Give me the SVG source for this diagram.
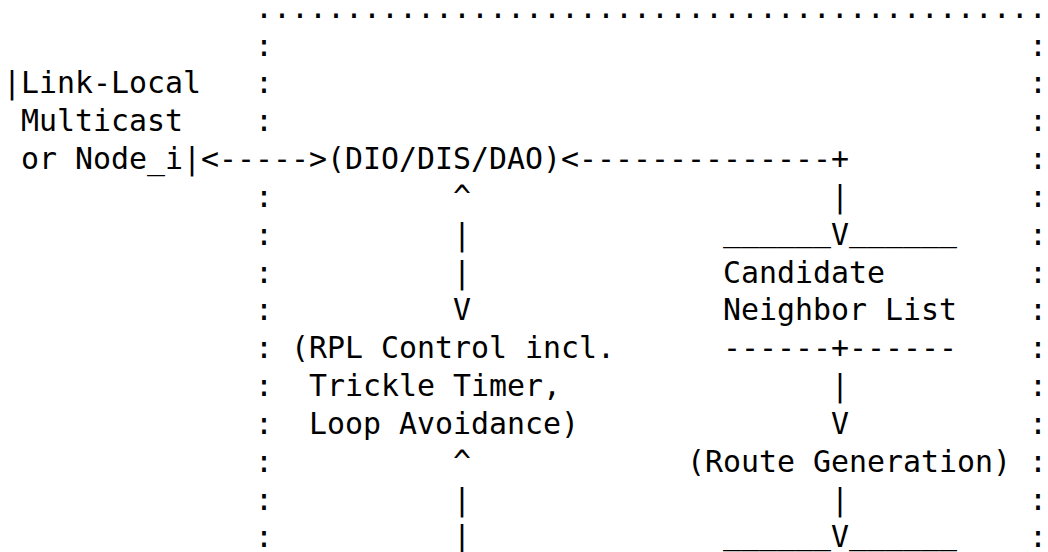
<svg xmlns="http://www.w3.org/2000/svg" width="1048" height="552" viewBox="0 0 1048 552">
<style>
text{font-family:"DejaVu Sans Mono","Liberation Mono",monospace;font-size:29.9px;fill:#000;white-space:pre}
</style>
<rect width="1048" height="552" fill="#fff"/>
<g id="boundary">
<text x="255" y="17.8">............................................</text>
<text x="255" y="55.6">:</text><text x="1029" y="55.6">:</text>
<text x="255" y="93.4">:</text><text x="1029" y="93.4">:</text>
<text x="255" y="131.3">:</text><text x="1029" y="131.3">:</text>
<text x="1029" y="169.1">:</text>
<text x="255" y="206.9">:</text><text x="1029" y="206.9">:</text>
<text x="255" y="244.7">:</text><text x="1029" y="244.7">:</text>
<text x="255" y="282.5">:</text><text x="1029" y="282.5">:</text>
<text x="255" y="320.4">:</text><text x="1029" y="320.4">:</text>
<text x="255" y="358.2">:</text><text x="1029" y="358.2">:</text>
<text x="255" y="396">:</text><text x="1029" y="396">:</text>
<text x="255" y="433.8">:</text><text x="1029" y="433.8">:</text>
<text x="255" y="471.6">:</text><text x="1029" y="471.6">:</text>
<text x="255" y="509.5">:</text><text x="1029" y="509.5">:</text>
<text x="255" y="547.3">:</text><text x="1029" y="547.3">:</text>
</g>
<g id="node-link-local">
<text x="3" y="93.4">|Link-Local</text>
<text x="21" y="131.3">Multicast</text>
<text x="21" y="169.1">or Node_i|</text>
</g>
<g id="node-dio-dis-dao">
<text x="327" y="169.1">(DIO/DIS/DAO)</text>
</g>
<g id="node-candidate-neighbor-list">
<text x="723" y="241.2">______</text><text x="849" y="241.2">______</text>
<text x="723" y="282.5">Candidate</text>
<text x="723" y="320.4">Neighbor List</text>
<text x="723" y="358.2">------+------</text>
</g>
<g id="node-rpl-control">
<text x="291" y="358.2">(RPL Control incl.</text>
<text x="309" y="396">Trickle Timer,</text>
<text x="309" y="433.8">Loop Avoidance)</text>
</g>
<g id="node-route-generation">
<text x="687" y="471.6">(Route Generation)</text>
</g>
<g id="node-next">
<text x="723" y="543.6">______</text><text x="849" y="543.6">______</text>
</g>
<g id="connectors">
<text x="201" y="169.1">&lt;-----&gt;</text>
<text x="561" y="169.1">&lt;--------------+</text>
<text x="831" y="206.9">|</text>
<text x="831" y="244.7">V</text>
<text x="453" y="206.9">^</text>
<text x="453" y="244.7">|</text>
<text x="453" y="282.5">|</text>
<text x="453" y="320.4">V</text>
<text x="831" y="396">|</text>
<text x="831" y="433.8">V</text>
<text x="453" y="471.6">^</text>
<text x="453" y="509.5">|</text>
<text x="453" y="547.3">|</text>
<text x="831" y="509.5">|</text>
<text x="831" y="547.3">V</text>
</g>
</svg>
